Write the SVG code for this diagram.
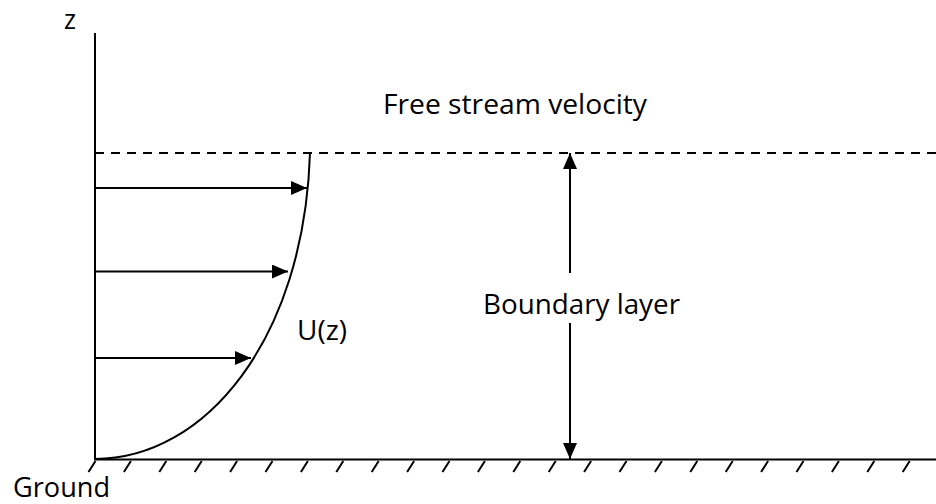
<svg xmlns="http://www.w3.org/2000/svg" width="936" height="504" viewBox="0 0 936 504">
<style>
.ln{stroke:#000;stroke-width:2;fill:none}
.tx{font-family:"Open Sans","Liberation Sans",sans-serif;font-size:28px;fill:#000}
</style>
<defs>
<marker id="ah" viewBox="0 0 16 14" refX="16" refY="7" markerWidth="16" markerHeight="14" markerUnits="userSpaceOnUse" orient="auto">
<path d="M0,0 L16,7 L0,14 z" fill="#000"/>
</marker>
</defs>
<rect width="936" height="504" fill="#fff"/>
<g id="axes">
<line class="ln" x1="95" y1="33" x2="95" y2="460"/>
<line class="ln" x1="94" y1="459.5" x2="936" y2="459.5"/>
<path class="ln" d="M95.5,461 l-7,11 M130.9,461 l-7,11 M166.3,461 l-7,11 M201.7,461 l-7,11 M237.1,461 l-7,11 M272.5,461 l-7,11 M307.9,461 l-7,11 M343.3,461 l-7,11 M378.7,461 l-7,11 M414.1,461 l-7,11 M449.5,461 l-7,11 M484.9,461 l-7,11 M520.3,461 l-7,11 M555.7,461 l-7,11 M591.1,461 l-7,11 M626.5,461 l-7,11 M661.9,461 l-7,11 M697.3,461 l-7,11 M732.7,461 l-7,11 M768.1,461 l-7,11 M803.5,461 l-7,11 M838.9,461 l-7,11 M874.3,461 l-7,11 M909.7,461 l-7,11"/>
<line class="ln" x1="95" y1="153" x2="936" y2="153" stroke-dasharray="9 7"/>
</g>
<g id="profile">
<path class="ln" d="M95,459 C205,459 304,340 310,153"/>
</g>
<g id="connectors">
<line class="ln" x1="95" y1="188" x2="307" y2="188" marker-end="url(#ah)"/>
<line class="ln" x1="95" y1="271.5" x2="288" y2="271.5" marker-end="url(#ah)"/>
<line class="ln" x1="95" y1="358" x2="251" y2="358" marker-end="url(#ah)"/>
<line class="ln" x1="570" y1="273" x2="570" y2="153" marker-end="url(#ah)"/>
<line class="ln" x1="570" y1="323" x2="570" y2="459" marker-end="url(#ah)"/>
</g>
<g id="labels">
<text class="tx" x="64" y="29" textLength="12" lengthAdjust="spacingAndGlyphs">z</text>
<text class="tx" x="383" y="114" textLength="264" lengthAdjust="spacingAndGlyphs">Free stream velocity</text>
<text class="tx" x="483" y="314" textLength="197" lengthAdjust="spacingAndGlyphs">Boundary layer</text>
<text class="tx" x="297" y="340" textLength="50" lengthAdjust="spacingAndGlyphs">U(z)</text>
<text class="tx" x="13" y="497" textLength="97" lengthAdjust="spacingAndGlyphs" style="font-size:27px">Ground</text>
</g>
</svg>
